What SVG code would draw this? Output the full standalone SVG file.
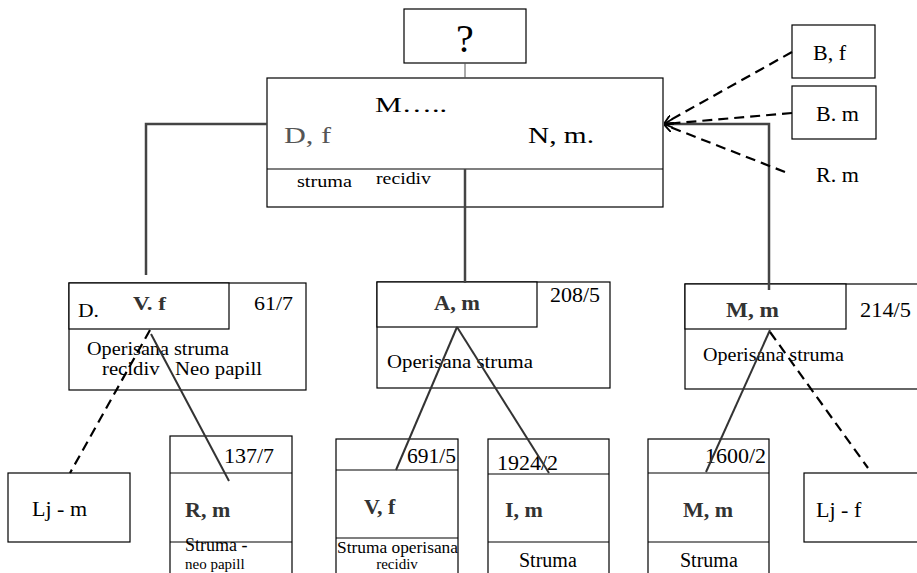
<svg xmlns="http://www.w3.org/2000/svg" width="917" height="573" viewBox="0 0 917 573">
<style>
text{font-family:"Liberation Serif","Times New Roman",serif;fill:#000}
.b{font-weight:bold;fill:#333}
.box{fill:#fff;stroke:#000;stroke-width:1.2}
.thin{fill:none;stroke:#000;stroke-width:1.2}
.conn{fill:none;stroke:#444;stroke-width:2.5}
.sl{fill:none;stroke:#333;stroke-width:2}
.dash{fill:none;stroke:#000;stroke-width:2.2;stroke-dasharray:10,6}
</style>
<defs>
<marker id="arr" viewBox="0 0 10 10" refX="9" refY="5" markerWidth="9" markerHeight="9" orient="auto" markerUnits="userSpaceOnUse">
<path d="M0,0 L10,5 L0,10" fill="none" stroke="#000" stroke-width="2"/>
</marker>
</defs>
<rect width="917" height="573" fill="#fff"/>

<g id="node-q">
<rect class="box" x="404" y="9" width="122" height="54"/>
<text x="465" y="52" font-size="40" text-anchor="middle">?</text>
</g>

<g id="node-main">
<rect class="box" x="267" y="78" width="396" height="129"/>
<line class="thin" x1="267" y1="169" x2="663" y2="169"/>
<text x="375" y="112" font-size="20" textLength="72" lengthAdjust="spacingAndGlyphs">M…..</text>
<text x="284" y="143" font-size="23" style="fill:#555" textLength="47" lengthAdjust="spacingAndGlyphs">D, f</text>
<text x="528" y="143" font-size="23" textLength="66" lengthAdjust="spacingAndGlyphs">N, m.</text>
<text x="297" y="187" font-size="16" textLength="55" lengthAdjust="spacingAndGlyphs">struma</text>
<text x="376" y="184" font-size="16" textLength="55" lengthAdjust="spacingAndGlyphs">recidiv</text>
</g>

<g id="node-bf">
<rect class="box" x="792" y="25" width="83" height="53"/>
<text x="813" y="60" font-size="22">B, f</text>
</g>
<g id="node-bm">
<rect class="box" x="792" y="86" width="84" height="53"/>
<text x="816" y="121" font-size="22">B. m</text>
</g>
<g id="node-rm">
<text x="816" y="182" font-size="22">R. m</text>
</g>

<g id="node-vf">
<rect class="box" x="69" y="283" width="237" height="107"/>
<rect class="box" x="69" y="283" width="160" height="46"/>
<text x="78" y="317" font-size="18" textLength="21" lengthAdjust="spacingAndGlyphs">D.</text>
<text class="b" x="133" y="310" font-size="18" textLength="33" lengthAdjust="spacingAndGlyphs">V. f</text>
<text x="254" y="310" font-size="19" textLength="39" lengthAdjust="spacingAndGlyphs">61/7</text>
<text x="87" y="355" font-size="18" textLength="142" lengthAdjust="spacingAndGlyphs">Operisana struma</text>
<text x="102" y="375" font-size="18" textLength="160" lengthAdjust="spacingAndGlyphs" xml:space="preserve">recidiv   Neo papill</text>
</g>

<g id="node-am">
<rect class="box" x="377" y="282" width="233" height="106"/>
<rect class="box" x="377" y="282" width="160" height="45"/>
<text class="b" x="434" y="310" font-size="20" textLength="46" lengthAdjust="spacingAndGlyphs">A, m</text>
<text x="550" y="302" font-size="21" textLength="50" lengthAdjust="spacingAndGlyphs">208/5</text>
<text x="387" y="368" font-size="19" textLength="146" lengthAdjust="spacingAndGlyphs">Operisana struma</text>
</g>

<g id="node-mm">
<rect class="box" x="685" y="284" width="240" height="105"/>
<rect class="box" x="685" y="284" width="161" height="45"/>
<text class="b" x="726" y="317" font-size="20" textLength="53" lengthAdjust="spacingAndGlyphs">M, m</text>
<text x="860" y="317" font-size="21" textLength="51" lengthAdjust="spacingAndGlyphs">214/5</text>
<text x="703" y="361" font-size="18" textLength="141" lengthAdjust="spacingAndGlyphs">Operisana struma</text>
</g>

<g id="node-ljm">
<rect class="box" x="8" y="473" width="122" height="69"/>
<text x="32" y="516" font-size="22">Lj - m</text>
</g>

<g id="node-rm2">
<rect class="box" x="170" y="436" width="122" height="150"/>
<line class="thin" x1="170" y1="473" x2="292" y2="473"/>
<line class="thin" x1="170" y1="542" x2="292" y2="542"/>
<text x="224" y="463" font-size="22">137/7</text>
<text class="b" x="185" y="517" font-size="22">R, m</text>
<text x="185" y="551" font-size="18">Struma -</text>
<text x="185" y="569" font-size="15">neo papill</text>
</g>

<g id="node-vf2">
<rect class="box" x="336" y="439" width="122" height="150"/>
<line class="thin" x1="336" y1="470" x2="458" y2="470"/>
<line class="thin" x1="336" y1="538" x2="458" y2="538"/>
<text x="407" y="463" font-size="22" textLength="49" lengthAdjust="spacingAndGlyphs">691/5</text>
<text class="b" x="364" y="514" font-size="22">V, f</text>
<text x="337" y="553" font-size="16" textLength="121" lengthAdjust="spacingAndGlyphs">Struma operisana</text>
<text x="397" y="569" font-size="15" text-anchor="middle">recidiv</text>
</g>

<g id="node-im">
<rect class="box" x="488" y="439" width="121" height="150"/>
<line class="thin" x1="488" y1="474" x2="609" y2="474"/>
<line class="thin" x1="488" y1="542" x2="609" y2="542"/>
<text x="497" y="470" font-size="22">1924/2</text>
<text class="b" x="505" y="517" font-size="22">I, m</text>
<text x="519" y="567" font-size="20">Struma</text>
</g>

<g id="node-mm2">
<rect class="box" x="648" y="439" width="121" height="150"/>
<line class="thin" x1="648" y1="473" x2="769" y2="473"/>
<line class="thin" x1="648" y1="542" x2="769" y2="542"/>
<text x="705" y="463" font-size="22">1600/2</text>
<text class="b" x="683" y="517" font-size="22">M, m</text>
<text x="680" y="567" font-size="20">Struma</text>
</g>

<g id="node-ljf">
<rect class="box" x="804" y="473" width="125" height="69"/>
<text x="816" y="517" font-size="22">Lj - f</text>
</g>

<g id="connectors">
<line x1="465" y1="63" x2="465" y2="78" stroke="#555" stroke-width="1"/>
<polyline class="conn" points="267,124 146,124 146,275"/>
<line class="conn" x1="465" y1="169" x2="465" y2="283"/>
<polyline class="conn" points="664,124 769,124 769,290"/>
<line class="dash" x1="792" y1="52" x2="665" y2="123" marker-end="url(#arr)"/>
<line class="dash" x1="792" y1="113" x2="665" y2="124" marker-end="url(#arr)"/>
<line class="dash" x1="785" y1="172" x2="665" y2="125" marker-end="url(#arr)"/>
<line class="dash" x1="150" y1="330" x2="70" y2="473"/>
<line class="sl" x1="151" y1="334" x2="229" y2="481"/>
<line class="sl" x1="457" y1="327" x2="396" y2="470"/>
<line class="sl" x1="457" y1="327" x2="549" y2="473"/>
<line class="sl" x1="770" y1="330" x2="706" y2="472"/>
<line class="dash" x1="770" y1="332" x2="868" y2="468"/>
</g>
</svg>
